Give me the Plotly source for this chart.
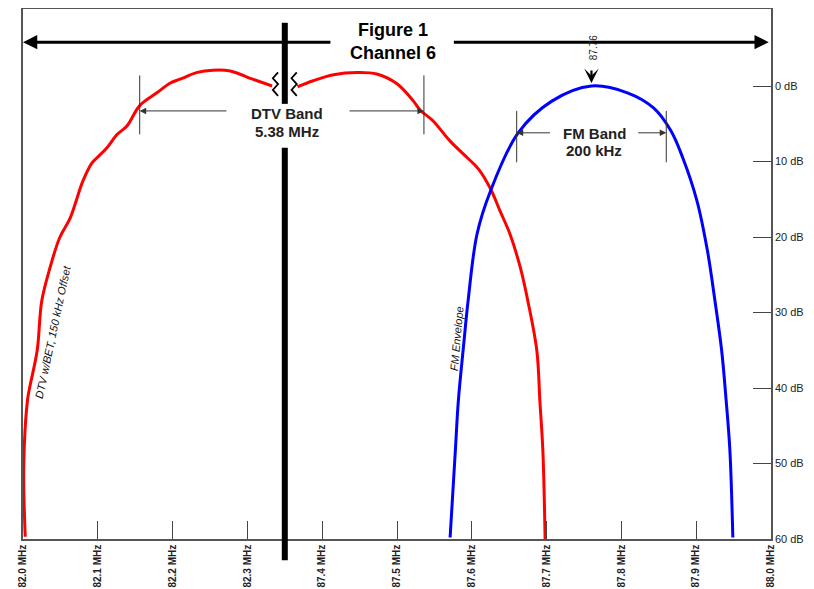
import plotly.graph_objects as go

# ---------------- data ----------------
TICK_FREQS = [82.0, 82.1, 82.2, 82.3, 87.4, 87.5, 87.6, 87.7, 87.8, 87.9, 88.0]
TICK_LABELS = ["82.0 MHz", "82.1 MHz", "82.2 MHz", "82.3 MHz", "87.4 MHz", "87.5 MHz",
               "87.6 MHz", "87.7 MHz", "87.8 MHz", "87.9 MHz", "88.0 MHz"]
DB_TICKS = [0, 10, 20, 30, 40, 50, 60]
DB_LABELS = ["0 dB", "10 dB", "20 dB", "30 dB", "40 dB", "50 dB", "60 dB"]

# DTV (w/BET, 150 kHz offset) lower part of channel (left of break)
dtv_low_freq = [82.003, 82.001, 82.006, 82.009, 82.019, 82.025, 82.036, 82.049, 82.063, 82.080,
                82.092, 82.099, 82.112, 82.126, 82.139, 82.156, 82.179, 82.197, 82.210, 82.233,
                82.254, 82.277, 82.307, 82.333]
dtv_low_db = [59.7, 50.5, 41.6, 39.9, 35.0, 28.5, 24.1, 20.1, 17.5, 12.6,
              10.2, 9.5, 8.2, 6.4, 5.3, 2.6, 0.9, -0.4, -0.9, -1.8,
              -2.1, -2.0, -0.9, 0.0]
# DTV upper part of channel (right of break)
dtv_high_freq = [87.367, 87.388, 87.415, 87.447, 87.473, 87.500, 87.522, 87.531, 87.548, 87.571,
                 87.594, 87.609, 87.625, 87.638, 87.651, 87.665, 87.675, 87.687, 87.691, 87.695,
                 87.698]
dtv_high_db = [0.1, -0.7, -1.5, -1.8, -1.6, -0.3, 2.0, 3.2, 4.6, 7.3,
               9.5, 11.0, 13.6, 16.6, 19.6, 24.1, 28.5, 35.1, 41.7, 48.3,
               60.0]

# FM envelope
fm_freq = [87.571, 87.578, 87.582, 87.589, 87.595, 87.607, 87.625, 87.662, 87.707, 87.760,
           87.808, 87.843, 87.866, 87.882, 87.901, 87.915, 87.925, 87.934, 87.940, 87.945,
           87.949]
fm_db = [59.8, 48.3, 41.7, 34.4, 28.5, 19.6, 13.9, 6.2, 2.0, 0.0,
         0.9, 2.9, 5.9, 9.5, 15.2, 21.8, 28.4, 35.0, 41.6, 48.2,
         59.8]

DTV_BAND = [82.156, 87.536]
FM_BAND = [87.66, 87.86]
FM_CENTER = 87.76


# ---------- broken frequency scale ----------
def pos(f):
    return (f - 82.0) * 10 if f < 85 else (f - 87.4) * 10 + 4


BREAK = 3.5
XMAX = pos(88.0)

FONT = "Arial, Liberation Sans, sans-serif"
fig = go.Figure()

fig.add_trace(go.Scatter(x=[pos(f) for f in dtv_low_freq], y=dtv_low_db, mode="lines",
                         line=dict(color="#ff0000", width=3, shape="spline", smoothing=1.0),
                         hoverinfo="skip"))
fig.add_trace(go.Scatter(x=[pos(f) for f in dtv_high_freq], y=dtv_high_db, mode="lines",
                         line=dict(color="#ff0000", width=3, shape="spline", smoothing=1.0),
                         hoverinfo="skip"))
fig.add_trace(go.Scatter(x=[pos(f) for f in fm_freq], y=fm_db, mode="lines",
                         line=dict(color="#0000ff", width=3, shape="spline", smoothing=1.0),
                         hoverinfo="skip"))

shapes = []
# thick break bar (two pieces, gap for label)
bx = BREAK / XMAX
for y0, y1 in [(0.821, 0.974), (-0.040, 0.738)]:
    shapes.append(dict(type="line", xref="x domain", yref="paper", x0=bx, x1=bx, y0=y0, y1=y1,
                       line=dict(color="black", width=6)))


# zig-zag break markers
def zigzag(xc, y0, y1, amp, n=4):
    pts = []
    for i in range(n + 1):
        y = y0 + (y1 - y0) * i / n
        x = xc + (amp if i % 2 == 0 else -amp)
        pts.append((x, y))
    return "M" + " L".join(f"{x:.3f},{y:.3f}" for x, y in pts)


for xc in [BREAK - 0.125, BREAK + 0.125]:
    shapes.append(dict(type="path", xref="x", yref="y", path=zigzag(xc, -1.8, 1.3, 0.035),
                       line=dict(color="black", width=1.8)))

# band edge markers
for f in DTV_BAND:
    shapes.append(dict(type="line", xref="x", yref="y", x0=pos(f), x1=pos(f), y0=-1.4, y1=6.4,
                       line=dict(color="#333", width=1)))
for f in FM_BAND:
    shapes.append(dict(type="line", xref="x", yref="y", x0=pos(f), x1=pos(f), y0=3.3, y1=10.1,
                       line=dict(color="#333", width=1)))

ann = []
# top arrows
ann.append(dict(x=0.0, y=-5.8, ax=4.13, ay=-5.8, axref="x", ayref="y", xref="x", yref="y",
                text="", showarrow=True, arrowhead=2, arrowwidth=3, arrowsize=0.95, arrowcolor="black"))
ann.append(dict(x=9.97, y=-5.8, ax=5.74, ay=-5.8, axref="x", ayref="y", xref="x", yref="y",
                text="", showarrow=True, arrowhead=2, arrowwidth=3, arrowsize=0.95, arrowcolor="black"))
ann.append(dict(x=4.94, y=-7.45, xref="x", yref="y", text="<b>Figure 1</b>", showarrow=False,
                font=dict(size=18, color="black", family=FONT)))
ann.append(dict(x=4.94, y=-4.4, xref="x", yref="y", text="<b>Channel 6</b>", showarrow=False,
                font=dict(size=18, color="black", family=FONT)))

# DTV band
ann.append(dict(x=pos(DTV_BAND[0]), y=3.3, ax=2.74, ay=3.3, axref="x", ayref="y", xref="x", yref="y",
                text="", showarrow=True, arrowhead=2, arrowwidth=1, arrowsize=1.3, arrowcolor="#333"))
ann.append(dict(x=pos(DTV_BAND[1]), y=3.3, ax=4.345, ay=3.3, axref="x", ayref="y", xref="x", yref="y",
                text="", showarrow=True, arrowhead=2, arrowwidth=1, arrowsize=1.3, arrowcolor="#333"))
ann.append(dict(x=BREAK + 0.03, y=3.7, xref="x", yref="y", text="<b>DTV Band</b>", showarrow=False,
                font=dict(size=15, color="#222", family=FONT)))
ann.append(dict(x=BREAK + 0.03, y=6.0, xref="x", yref="y", text="<b>5.38 MHz</b>", showarrow=False,
                font=dict(size=15, color="#222", family=FONT)))

# FM band
ann.append(dict(x=pos(FM_BAND[0]), y=6.2, ax=pos(87.7065), ay=6.2, axref="x", ayref="y", xref="x", yref="y",
                text="", showarrow=True, arrowhead=2, arrowwidth=1, arrowsize=1.3, arrowcolor="#333"))
ann.append(dict(x=pos(FM_BAND[1]), y=6.2, ax=pos(87.8205), ay=6.2, axref="x", ayref="y", xref="x", yref="y",
                text="", showarrow=True, arrowhead=2, arrowwidth=1, arrowsize=1.3, arrowcolor="#333"))
ann.append(dict(x=pos(FM_CENTER) + 0.04, y=6.3, xref="x", yref="y", text="<b>FM Band</b>", showarrow=False,
                font=dict(size=15, color="#222", family=FONT)))
ann.append(dict(x=pos(FM_CENTER) + 0.04, y=8.6, xref="x", yref="y", text="<b>200 kHz</b>", showarrow=False,
                font=dict(size=15, color="#222", family=FONT)))

# 87.76 center marker
ann.append(dict(x=pos(FM_CENTER), y=-0.4, xref="x", yref="y", ax=0, ay=-14, text="",
                showarrow=True, arrowhead=3, arrowwidth=2.2, arrowsize=1.1, arrowcolor="black"))
ann.append(dict(x=pos(FM_CENTER) + 0.03, y=-5.1, xref="x", yref="y", text="87.76", textangle=-90,
                showarrow=False, font=dict(size=10, color="#222", family=FONT)))

# curve labels
ann.append(dict(x=0.40, y=32.6, xref="x", yref="y", text="<i>DTV w/BET, 150 kHz Offset</i>", textangle=-78,
                showarrow=False, font=dict(size=11, color="#111", family=FONT)))
ann.append(dict(x=5.80, y=33.4, xref="x", yref="y", text="<i>FM Envelope</i>", textangle=-85,
                showarrow=False, font=dict(size=11, color="#111", family=FONT)))

fig.update_layout(
    width=814, height=589,
    margin=dict(l=15, r=51, t=1, b=58, autoexpand=False),
    paper_bgcolor="white", plot_bgcolor="white",
    showlegend=False,
    font=dict(family=FONT, color="#222"),
    shapes=shapes,
    annotations=ann,
    xaxis=dict(range=[0, XMAX], tickvals=[pos(f) for f in TICK_FREQS], ticktext=TICK_LABELS,
               tickangle=-90, ticks="inside", ticklen=18, tickcolor="#444", tickwidth=1,
               showline=True, linecolor="#555", linewidth=1.5, mirror=True,
               showgrid=False, zeroline=False,
               tickfont=dict(size=10, color="#222", family=FONT, weight="bold")),
    yaxis=dict(range=[60, -10.2], side="right", tickvals=DB_TICKS, ticktext=DB_LABELS,
               ticks="inside", ticklen=18, tickcolor="#444", tickwidth=1,
               showline=True, linecolor="#555", linewidth=1.5, mirror=True,
               showgrid=False, zeroline=False,
               tickfont=dict(size=11, color="#222", family=FONT)),
)

fig.write_html("out.html")
